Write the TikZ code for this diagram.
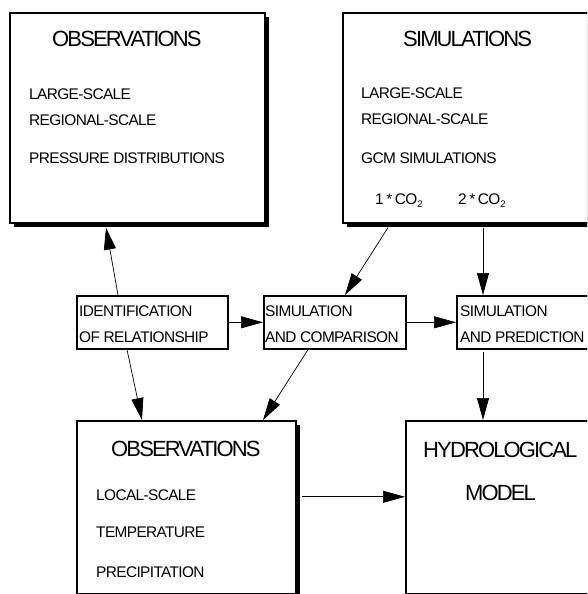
\documentclass[tikz,border=0pt]{standalone}
\usepackage{fontspec}
\setmainfont{Liberation Sans}
\newfontfamily\ttlfam[LetterSpace=-8.5]{Liberation Sans}
\newfontfamily\txtfam[LetterSpace=-4]{Liberation Sans}
\usetikzlibrary{arrows.meta,shadows}
\begin{document}
\begin{tikzpicture}[x=1pt,y=-1pt,
  box/.style={draw, line width=1.6pt, fill=white, rectangle, inner sep=0pt, anchor=north west},
  shbox/.style={box, drop shadow={shadow xshift=4pt, shadow yshift=-4pt, fill=black, opacity=1}},
  arr/.style={-{Triangle[length=22pt,width=12pt]}, line width=0.7pt},
  ttl/.style={anchor=base west, inner sep=0pt, font=\ttlfam\fontsize{22}{22}\selectfont},
  txt/.style={anchor=base west, inner sep=0pt, font=\txtfam\fontsize{15.4}{15.4}\selectfont}]
\useasboundingbox (0,0) rectangle (587,594);
\clip (0,0) rectangle (587,594);
% boxes
\node[shbox, minimum width=255pt, minimum height=210pt] (obsA) at (9,12) {};
\node[shbox, minimum width=262pt, minimum height=210pt] (sim) at (342,12) {};
\node[box, minimum width=151pt, minimum height=53pt] (ident) at (76,295) {};
\node[box, minimum width=142pt, minimum height=53pt] (comp) at (263,295) {};
\node[box, minimum width=140pt, minimum height=53pt] (pred) at (456,295) {};
\node[shbox, minimum width=219pt, minimum height=173pt] (obsB) at (76,420) {};
\node[box, minimum width=200pt, minimum height=173pt] (hydro) at (405,420) {};
% texts
\node[ttl] (tA) at (52,47) {OBSERVATIONS};
\node[txt] (tA1) at (29,99) {LARGE-SCALE};
\node[txt] (tA2) at (29,125) {REGIONAL-SCALE};
\node[txt] (tA3) at (29,163) {PRESSURE DISTRIBUTIONS};
\node[ttl] (tS) at (403,47) {SIMULATIONS};
\node[txt] (tS1) at (361,98) {LARGE-SCALE};
\node[txt] (tS2) at (361,124) {REGIONAL-SCALE};
\node[txt] (tS3) at (361,163) {GCM SIMULATIONS};
\node[txt] (tS4) at (375,204) {1\,*\,CO\raisebox{-3pt}{\fontsize{9.5}{9.5}\selectfont 2}};
\node[txt] (tS5) at (458,204) {2\,*\,CO\raisebox{-3pt}{\fontsize{9.5}{9.5}\selectfont 2}};
\node[txt] (tI1) at (79,316) {IDENTIFICATION};
\node[txt] (tI2) at (79,342) {OF RELATIONSHIP};
\node[txt] (tC1) at (265,316) {SIMULATION};
\node[txt] (tC2) at (265,342) {AND COMPARISON};
\node[txt] (tP1) at (460,316) {SIMULATION};
\node[txt] (tP2) at (460,342) {AND PREDICTION};
\node[ttl] (tB) at (111,456) {OBSERVATIONS};
\node[txt] (tB1) at (96,500) {LOCAL-SCALE};
\node[txt] (tB2) at (96,537) {TEMPERATURE};
\node[txt] (tB3) at (96,577) {PRECIPITATION};
\node[ttl] (tH1) at (423,457) {HYDROLOGICAL};
\node[ttl] (tH2) at (465,500) {MODEL};
% connectors
\draw[arr] ([xshift=42pt]ident.north west) -- ([xshift=97pt,yshift=-4pt]obsA.south west);
\draw[arr] (ident.east) -- (comp.west);
\draw[arr] (comp.east) -- (pred.west);
\draw[arr] ([xshift=46pt,yshift=-4pt]sim.south west) -- ([xshift=82pt]comp.north west);
\draw[arr] ([xshift=141pt,yshift=-4pt]sim.south west) -- ([xshift=27pt]pred.north west);
\draw[arr] ([xshift=51pt]ident.south west) -- ([xshift=66pt]obsB.north west);
\draw[arr] ([xshift=45pt]comp.south west) -- ([xshift=187pt]obsB.north west);
\draw[arr] ([xshift=27pt,yshift=-2pt]pred.south west) -- ([xshift=78pt]hydro.north west);
\draw[arr] ([xshift=5pt,yshift=10.5pt]obsB.east) -- ([yshift=10.5pt]hydro.west);
\end{tikzpicture}
\end{document}
